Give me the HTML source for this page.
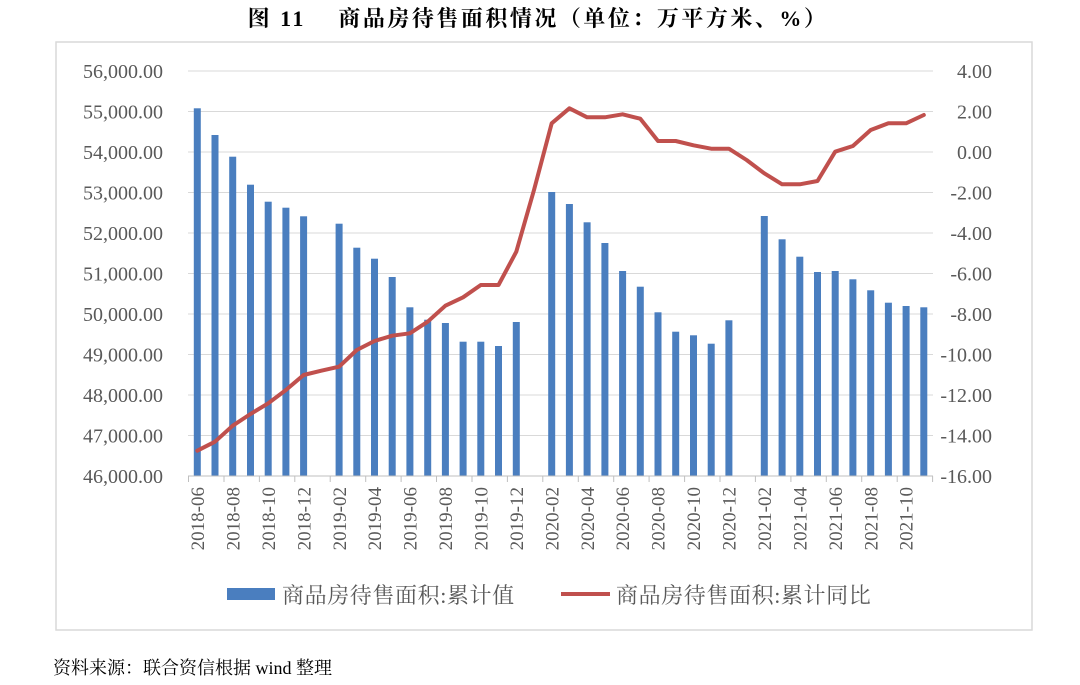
<!DOCTYPE html>
<html><head><meta charset="utf-8"><style>
body{margin:0;background:#fff;}
svg{display:block;}
</style></head><body>
<svg width="1080" height="685" viewBox="0 0 1080 685" xmlns="http://www.w3.org/2000/svg">
<text x="538" y="26" text-anchor="middle" font-family="Liberation Serif, Noto Serif CJK SC, serif" font-size="22" font-weight="bold" letter-spacing="2.5" fill="#000">图 11　 商品房待售面积情况（单位：万平方米、%）</text>
<rect x="56" y="42" width="976" height="588" fill="none" stroke="#d9d9d9" stroke-width="1.5"/>
<g stroke="#d9d9d9" stroke-width="1">
<line x1="188" y1="71" x2="933" y2="71"/><line x1="188" y1="111.5" x2="933" y2="111.5"/><line x1="188" y1="152" x2="933" y2="152"/><line x1="188" y1="192.5" x2="933" y2="192.5"/><line x1="188" y1="233" x2="933" y2="233"/><line x1="188" y1="273.5" x2="933" y2="273.5"/><line x1="188" y1="314" x2="933" y2="314"/><line x1="188" y1="354.5" x2="933" y2="354.5"/><line x1="188" y1="395" x2="933" y2="395"/><line x1="188" y1="435.5" x2="933" y2="435.5"/><line x1="188" y1="476" x2="933" y2="476"/>
</g>
<g font-family="Liberation Serif, serif" font-size="20" fill="#595959" text-anchor="end">
<text x="163" y="78">56,000.00</text><text x="163" y="118.5">55,000.00</text><text x="163" y="159">54,000.00</text><text x="163" y="199.5">53,000.00</text><text x="163" y="240">52,000.00</text><text x="163" y="280.5">51,000.00</text><text x="163" y="321">50,000.00</text><text x="163" y="361.5">49,000.00</text><text x="163" y="402">48,000.00</text><text x="163" y="442.5">47,000.00</text><text x="163" y="483">46,000.00</text>
</g>
<g font-family="Liberation Serif, serif" font-size="20" fill="#595959" text-anchor="end">
<text x="992" y="78">4.00</text><text x="992" y="118.5">2.00</text><text x="992" y="159">0.00</text><text x="992" y="199.5">-2.00</text><text x="992" y="240">-4.00</text><text x="992" y="280.5">-6.00</text><text x="992" y="321">-8.00</text><text x="992" y="361.5">-10.00</text><text x="992" y="402">-12.00</text><text x="992" y="442.5">-14.00</text><text x="992" y="483">-16.00</text>
</g>
<g fill="#4a7ebf">
<rect x="193.8" y="108.3" width="7" height="367.7"/>
<rect x="211.5" y="135" width="7" height="341"/>
<rect x="229.2" y="156.7" width="7" height="319.3"/>
<rect x="247" y="184.7" width="7" height="291.3"/>
<rect x="264.7" y="201.7" width="7" height="274.3"/>
<rect x="282.4" y="207.7" width="7" height="268.3"/>
<rect x="300.1" y="216.3" width="7" height="259.7"/>
<rect x="335.6" y="223.7" width="7" height="252.3"/>
<rect x="353.3" y="247.7" width="7" height="228.3"/>
<rect x="371" y="258.7" width="7" height="217.3"/>
<rect x="388.7" y="277" width="7" height="199"/>
<rect x="406.4" y="307.3" width="7" height="168.7"/>
<rect x="424.2" y="319.7" width="7" height="156.3"/>
<rect x="441.9" y="323" width="7" height="153"/>
<rect x="459.6" y="341.7" width="7" height="134.3"/>
<rect x="477.3" y="341.7" width="7" height="134.3"/>
<rect x="495" y="346" width="7" height="130"/>
<rect x="512.8" y="322" width="7" height="154"/>
<rect x="548.2" y="192" width="7" height="284"/>
<rect x="565.9" y="204" width="7" height="272"/>
<rect x="583.6" y="222.3" width="7" height="253.7"/>
<rect x="601.4" y="243" width="7" height="233"/>
<rect x="619.1" y="271" width="7" height="205"/>
<rect x="636.8" y="286.7" width="7" height="189.3"/>
<rect x="654.5" y="312.3" width="7" height="163.7"/>
<rect x="672.2" y="331.7" width="7" height="144.3"/>
<rect x="690" y="335.3" width="7" height="140.7"/>
<rect x="707.7" y="343.7" width="7" height="132.3"/>
<rect x="725.4" y="320.3" width="7" height="155.7"/>
<rect x="760.8" y="216" width="7" height="260"/>
<rect x="778.6" y="239.3" width="7" height="236.7"/>
<rect x="796.3" y="256.7" width="7" height="219.3"/>
<rect x="814" y="272" width="7" height="204"/>
<rect x="831.7" y="271" width="7" height="205"/>
<rect x="849.4" y="279.3" width="7" height="196.7"/>
<rect x="867.2" y="290.3" width="7" height="185.7"/>
<rect x="884.9" y="302.7" width="7" height="173.3"/>
<rect x="902.6" y="306" width="7" height="170"/>
<rect x="920.3" y="307.3" width="7" height="168.7"/>
</g>
<polyline fill="none" stroke="#c0504d" stroke-width="4" stroke-linejoin="round" stroke-linecap="round" points="197.3,450.7 215,441.7 232.7,425.7 250.5,414 268.2,403.3 285.9,390 303.6,375 321.3,370.7 339.1,366.7 356.8,350 374.5,341 392.2,335.7 409.9,333.3 427.7,321.7 445.4,305.7 463.1,297.3 480.8,285 498.5,285 516.3,251.7 534,190 551.7,123.3 569.4,108.3 587.1,117.3 604.9,117.3 622.6,114.3 640.3,118.7 658,141 675.7,141 693.5,145.3 711.2,148.7 728.9,148.7 746.6,160 764.3,173.3 782.1,184.3 799.8,184.3 817.5,181 835.2,151.7 852.9,146 870.7,130 888.4,123.3 906.1,123.3 923.8,115"/>
<line x1="188" y1="476" x2="933" y2="476" stroke="#bfbfbf" stroke-width="1"/>
<g stroke="#bfbfbf" stroke-width="1">
<line x1="188.5" y1="476" x2="188.5" y2="482"/><line x1="224" y1="476" x2="224" y2="482"/><line x1="259.4" y1="476" x2="259.4" y2="482"/><line x1="294.8" y1="476" x2="294.8" y2="482"/><line x1="330.2" y1="476" x2="330.2" y2="482"/><line x1="365.7" y1="476" x2="365.7" y2="482"/><line x1="401.1" y1="476" x2="401.1" y2="482"/><line x1="436.5" y1="476" x2="436.5" y2="482"/><line x1="472" y1="476" x2="472" y2="482"/><line x1="507.4" y1="476" x2="507.4" y2="482"/><line x1="542.8" y1="476" x2="542.8" y2="482"/><line x1="578.3" y1="476" x2="578.3" y2="482"/><line x1="613.7" y1="476" x2="613.7" y2="482"/><line x1="649.1" y1="476" x2="649.1" y2="482"/><line x1="684.6" y1="476" x2="684.6" y2="482"/><line x1="720" y1="476" x2="720" y2="482"/><line x1="755.4" y1="476" x2="755.4" y2="482"/><line x1="790.9" y1="476" x2="790.9" y2="482"/><line x1="826.3" y1="476" x2="826.3" y2="482"/><line x1="861.7" y1="476" x2="861.7" y2="482"/><line x1="897.2" y1="476" x2="897.2" y2="482"/><line x1="932.6" y1="476" x2="932.6" y2="482"/>
</g>
<g font-family="Liberation Serif, serif" font-size="19" fill="#595959" text-anchor="end">
<text transform="translate(204,487) rotate(-90)">2018-06</text>
<text transform="translate(239.4,487) rotate(-90)">2018-08</text>
<text transform="translate(274.9,487) rotate(-90)">2018-10</text>
<text transform="translate(310.3,487) rotate(-90)">2018-12</text>
<text transform="translate(345.8,487) rotate(-90)">2019-02</text>
<text transform="translate(381.2,487) rotate(-90)">2019-04</text>
<text transform="translate(416.6,487) rotate(-90)">2019-06</text>
<text transform="translate(452.1,487) rotate(-90)">2019-08</text>
<text transform="translate(487.5,487) rotate(-90)">2019-10</text>
<text transform="translate(522.9,487) rotate(-90)">2019-12</text>
<text transform="translate(558.4,487) rotate(-90)">2020-02</text>
<text transform="translate(593.8,487) rotate(-90)">2020-04</text>
<text transform="translate(629.2,487) rotate(-90)">2020-06</text>
<text transform="translate(664.7,487) rotate(-90)">2020-08</text>
<text transform="translate(700.1,487) rotate(-90)">2020-10</text>
<text transform="translate(735.5,487) rotate(-90)">2020-12</text>
<text transform="translate(771,487) rotate(-90)">2021-02</text>
<text transform="translate(806.4,487) rotate(-90)">2021-04</text>
<text transform="translate(841.8,487) rotate(-90)">2021-06</text>
<text transform="translate(877.3,487) rotate(-90)">2021-08</text>
<text transform="translate(912.7,487) rotate(-90)">2021-10</text>
</g>
<rect x="227" y="588" width="48" height="12" fill="#4a7ebf"/>
<text x="282" y="603" font-family="Liberation Serif, Noto Serif CJK SC, serif" font-size="22" letter-spacing="0.6" fill="#595959">商品房待售面积:累计值</text>
<line x1="561" y1="594" x2="610" y2="594" stroke="#c0504d" stroke-width="4"/>
<text x="616" y="603" font-family="Liberation Serif, Noto Serif CJK SC, serif" font-size="22" letter-spacing="0.6" fill="#595959">商品房待售面积:累计同比</text>
<text x="53" y="674" font-family="Liberation Serif, Noto Serif CJK SC, serif" font-size="18" fill="#000">资料来源：联合资信根据 wind 整理</text>
</svg>
</body></html>
